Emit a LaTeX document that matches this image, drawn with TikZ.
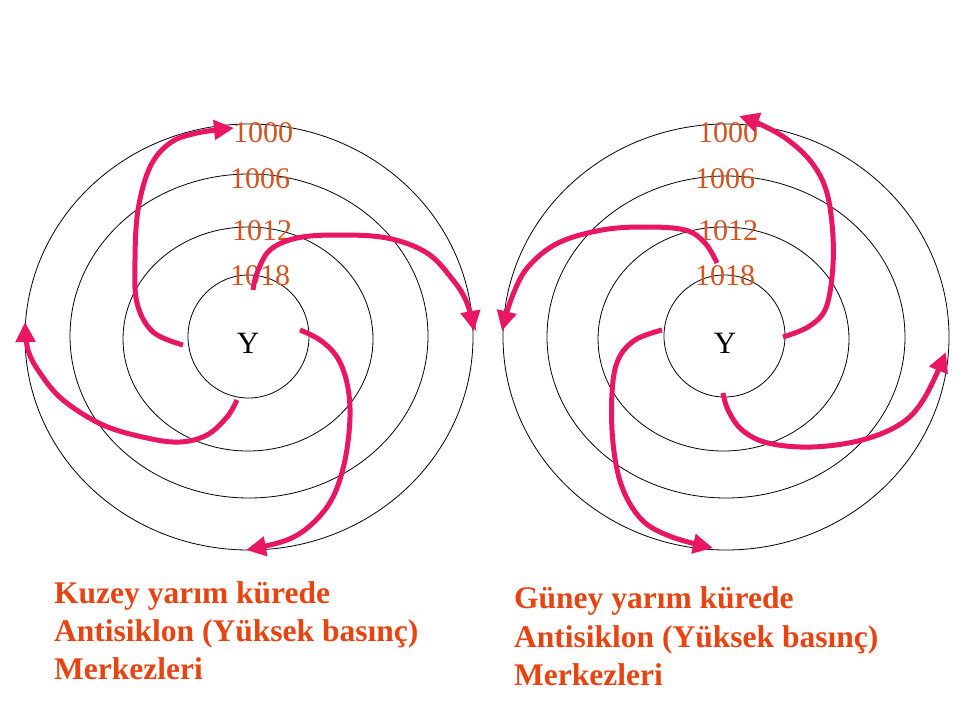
\documentclass[tikz,border=0pt]{standalone}
\usepackage{fontspec}
\setmainfont{Liberation Serif}
\usetikzlibrary{arrows.meta}
\definecolor{wind}{RGB}{233,22,100}
\definecolor{isonum}{RGB}{214,82,30}
\definecolor{capt}{RGB}{232,68,18}
\begin{document}
\begin{tikzpicture}[x=1pt,y=-1pt,
  iso/.style={draw=black,line width=0.8pt},
  flow/.style={draw=wind,line width=5pt,-{Triangle[length=20pt,width=19pt]}},
  num/.style={text=isonum,font=\fontsize{30}{32}\selectfont,anchor=base,inner sep=0pt},
  ylab/.style={text=black,font=\fontsize{31}{32}\selectfont,anchor=base,inner sep=0pt},
  captext/.style={text=capt,font=\bfseries\fontsize{31.5}{38}\selectfont,anchor=base west,inner sep=0pt}]
\useasboundingbox[fill=white] (0,0) rectangle (960,720);
% left isobars
\draw[iso] (249,337) ellipse (224 and 213);
\draw[iso] (249,336) ellipse (179 and 162);
\draw[iso] (248,339) ellipse (125 and 112);
\draw[iso] (248.5,336.5) ellipse (60.5 and 61.5);
% right isobars
\draw[iso] (726,337) ellipse (223 and 213);
\draw[iso] (726,337) ellipse (179 and 161);
\draw[iso] (723.5,339) ellipse (125.5 and 112);
\draw[iso] (724.5,336) ellipse (60.5 and 61);
% left labels
\node[num] (l1000) at (263,142) {1000};
\node[num] (l1006) at (260,188) {1006};
\node[num] (l1012) at (262,240) {1012};
\node[num] (l1018) at (260,285) {1018};
\node[ylab] (lY) at (248,353) {Y};
% right labels
\node[num] (r1000) at (728,142) {1000};
\node[num] (r1006) at (725,188) {1006};
\node[num] (r1012) at (728,240) {1012};
\node[num] (r1018) at (725,285) {1018};
\node[ylab] (rY) at (725,353) {Y};
% left arrows
\draw[flow] plot[smooth,tension=0.6] coordinates {(183,345) (153,332) (137,303) (135,260) (138,210) (150,167) (170,143) (197,133) (234,128)};
\draw[flow] plot[smooth,tension=0.6] coordinates {(253,290) (257,273) (270,250) (297,238) (337,235) (387,238) (427,253) (453,280) (467,303) (474,331)};
\draw[flow] plot[smooth,tension=0.6] coordinates {(300,330) (320,340) (337,357) (347,383) (350,417) (345,460) (333,497) (313,523) (287,540) (246,550)};
\draw[flow] plot[smooth,tension=0.6] coordinates {(237,400) (227,417) (207,435) (180,442) (147,438) (103,425) (63,400) (40,373) (28,350) (25,322)};
% right arrows
\draw[flow] plot[smooth,tension=0.6] coordinates {(783,337) (808,327) (825,310) (832,277) (833,237) (827,193) (812,163) (788,140) (762,125) (739,116)};
\draw[flow] plot[smooth,tension=0.6] coordinates {(717,263) (705,243) (685,230) (645,227) (602,230) (558,243) (528,267) (512,297) (502,331)};
\draw[flow] plot[smooth,tension=0.6] coordinates {(662,330) (635,340) (618,360) (612,393) (613,443) (622,487) (642,520) (672,537) (713,548)};
\draw[flow] plot[smooth,tension=0.6] coordinates {(723,393) (728,410) (742,430) (768,443) (812,447) (862,440) (902,423) (925,397) (946,352)};
% captions
\node[captext] (lc1) at (54,603) {Kuzey yarım kürede};
\node[captext] (lc2) at (54,641) {Antisiklon (Yüksek basınç)};
\node[captext] (lc3) at (54,679) {Merkezleri};
\node[captext] (rc1) at (514,608) {Güney yarım kürede};
\node[captext] (rc2) at (514,647) {Antisiklon (Yüksek basınç)};
\node[captext] (rc3) at (514,685) {Merkezleri};
\end{tikzpicture}
\end{document}
